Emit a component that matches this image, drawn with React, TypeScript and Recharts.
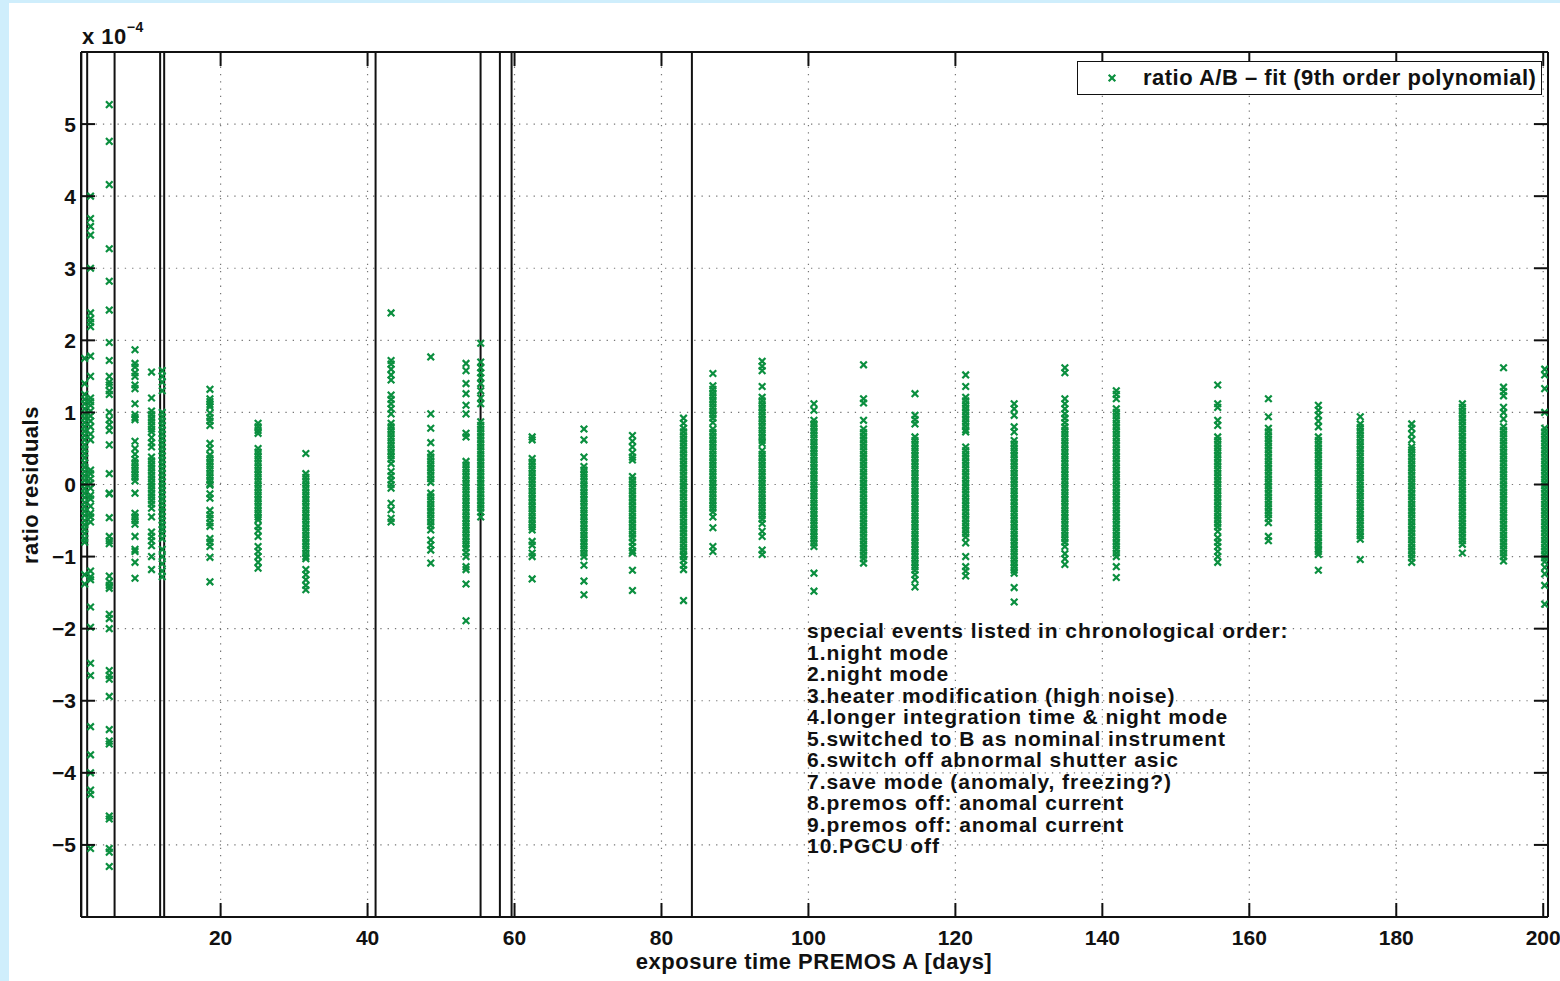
import React from "react";
import { CartesianGrid, Legend, ReferenceLine, Scatter, ScatterChart, XAxis, YAxis } from "recharts";

// days at which each batch of residuals was measured
const clusterDays = [
  1.5, 2.3, 4.85, 8.35, 10.6, 12.05, 18.55, 25.1, 31.6, 43.2, 48.6, 53.4, 55.4, 62.4, 69.45, 76.05, 83.0,
  87.0, 93.7, 100.75, 107.5, 114.5, 121.4, 128.0, 134.9, 141.9, 155.7, 162.6, 169.4, 175.1, 182.1, 189.0,
  194.6, 200.2
];

// residuals (x 1e-4) for each day above, same order
const clusterResiduals = [
  [1.75, 1.4, 1.25, 1.18, 1.12, 1.05, 0.98, 0.92, 0.86, 0.8, 0.74, 0.68, 0.62, 0.55, 0.49, 0.43, 0.37, 0.3, 0.24, 0.18, 0.12, 0.06, 0.0, -0.06, -0.12, -0.18, -0.25, -0.31, -0.37, -0.43, -0.5, -0.56, -0.62, -0.68, -0.75, -0.8, -1.25, -1.38],
  [4.0, 3.69, 3.58, 3.46, 3.0, 2.38, 2.3, 2.25, 2.19, 1.78, 1.5, 1.2, 1.15, 1.1, 1.02, 0.95, 0.88, 0.8, 0.7, 0.62, 0.2, 0.15, 0.08, 0.02, -0.05, -0.15, -0.2, -0.3, -0.4, -0.45, -0.52, -1.2, -1.28, -1.32, -1.7, -1.98, -2.48, -2.65, -3.36, -3.75, -4.0, -4.24, -4.3, -5.05],
  [5.27, 4.76, 4.16, 3.27, 2.82, 2.42, 1.97, 1.72, 1.5, 1.42, 1.38, 1.3, 1.25, 1.0, 0.9, 0.83, 0.75, 0.55, 0.15, -0.12, -0.13, -0.46, -0.72, -0.78, -0.82, -1.27, -1.35, -1.4, -1.44, -1.8, -1.86, -2.0, -2.58, -2.65, -2.7, -2.94, -3.4, -3.56, -3.6, -4.6, -4.64, -5.05, -5.1, -5.3],
  [1.87, 1.68, 1.63, 1.55, 1.5, 1.38, 1.33, 1.12, 0.97, 0.93, 0.9, 0.6, 0.5, 0.42, 0.35, 0.3, 0.25, 0.2, 0.15, 0.1, 0.05, -0.12, -0.4, -0.45, -0.5, -0.55, -0.72, -0.9, -0.93, -1.08, -1.3],
  [1.56, 1.2, 1.02, 0.97, 0.92, 0.87, 0.82, 0.77, 0.73, 0.65, 0.58, 0.52, 0.38, 0.33, 0.28, 0.23, 0.18, 0.13, 0.08, 0.03, -0.02, -0.07, -0.12, -0.17, -0.22, -0.27, -0.33, -0.45, -0.66, -0.72, -0.78, -0.85, -1.0, -1.18],
  [1.58, 1.5, 1.42, 1.3, 1.0, 0.94, 0.88, 0.82, 0.76, 0.7, 0.64, 0.58, 0.52, 0.46, 0.4, 0.34, 0.28, 0.22, 0.16, 0.1, 0.04, -0.02, -0.08, -0.14, -0.2, -0.26, -0.32, -0.38, -0.44, -0.5, -0.56, -0.62, -0.68, -0.75, -0.9, -1.0, -1.1, -1.2, -1.28],
  [1.32, 1.19, 1.15, 1.11, 1.08, 0.99, 0.93, 0.88, 0.82, 0.57, 0.5, 0.41, 0.36, 0.31, 0.26, 0.21, 0.16, 0.11, 0.06, 0.01, -0.01, -0.13, -0.19, -0.36, -0.42, -0.47, -0.53, -0.58, -0.75, -0.8, -0.86, -1.01, -1.35],
  [0.85, 0.8, 0.75, 0.71, 0.5, 0.45, 0.4, 0.35, 0.3, 0.25, 0.2, 0.15, 0.1, 0.05, 0.0, -0.05, -0.1, -0.15, -0.2, -0.25, -0.3, -0.35, -0.4, -0.45, -0.49, -0.58, -0.64, -0.72, -0.86, -0.93, -1.0, -1.08, -1.16],
  [0.43, 0.15, 0.1, 0.05, 0.0, -0.05, -0.1, -0.15, -0.2, -0.25, -0.3, -0.35, -0.4, -0.45, -0.5, -0.55, -0.6, -0.65, -0.7, -0.75, -0.8, -0.85, -0.9, -0.95, -1.0, -1.03, -1.18, -1.25, -1.32, -1.4, -1.46],
  [2.38, 1.72, 1.67, 1.6, 1.52, 1.45, 1.24, 1.18, 1.12, 1.05, 0.98, 0.85, 0.8, 0.75, 0.7, 0.65, 0.6, 0.55, 0.5, 0.45, 0.4, 0.35, 0.29, 0.18, 0.12, 0.06, 0.0, -0.05, -0.26, -0.35, -0.47, -0.52],
  [1.77, 0.98, 0.78, 0.58, 0.43, 0.38, 0.33, 0.28, 0.23, 0.18, 0.13, 0.08, 0.03, -0.12, -0.17, -0.22, -0.27, -0.32, -0.37, -0.42, -0.47, -0.52, -0.57, -0.63, -0.77, -0.84, -0.91, -1.09],
  [1.68, 1.58, 1.4, 1.26, 1.1, 0.98, 0.71, 0.66, 0.32, 0.27, 0.22, 0.17, 0.12, 0.07, 0.02, -0.03, -0.08, -0.13, -0.18, -0.23, -0.28, -0.33, -0.38, -0.43, -0.48, -0.53, -0.58, -0.63, -0.68, -0.73, -0.78, -0.83, -0.88, -0.94, -1.0, -1.14, -1.18, -1.38, -1.89],
  [1.96, 1.7, 1.62, 1.55, 1.48, 1.4, 1.3, 1.2, 1.12, 0.87, 0.82, 0.77, 0.72, 0.67, 0.62, 0.57, 0.52, 0.47, 0.42, 0.37, 0.32, 0.27, 0.22, 0.17, 0.12, 0.07, 0.02, -0.03, -0.08, -0.13, -0.18, -0.23, -0.28, -0.33, -0.38, -0.45],
  [0.66, 0.62, 0.36, 0.31, 0.26, 0.21, 0.16, 0.11, 0.06, 0.01, -0.04, -0.09, -0.14, -0.19, -0.24, -0.29, -0.34, -0.39, -0.44, -0.49, -0.54, -0.59, -0.63, -0.79, -0.84, -0.95, -1.0, -1.31],
  [0.77, 0.62, 0.38, 0.25, 0.2, 0.15, 0.1, 0.05, 0.0, -0.05, -0.1, -0.15, -0.2, -0.25, -0.3, -0.35, -0.4, -0.45, -0.5, -0.55, -0.6, -0.65, -0.7, -0.75, -0.8, -0.85, -0.9, -0.95, -1.0, -1.12, -1.34, -1.53],
  [0.68, 0.6, 0.52, 0.44, 0.38, 0.34, 0.11, 0.06, 0.01, -0.04, -0.09, -0.14, -0.19, -0.24, -0.29, -0.34, -0.39, -0.44, -0.49, -0.54, -0.59, -0.64, -0.69, -0.74, -0.8, -0.86, -0.92, -0.95, -1.19, -1.47],
  [0.92, 0.85, 0.78, 0.73, 0.68, 0.63, 0.58, 0.53, 0.48, 0.43, 0.38, 0.33, 0.28, 0.23, 0.18, 0.13, 0.08, 0.03, -0.02, -0.07, -0.12, -0.17, -0.22, -0.27, -0.32, -0.37, -0.42, -0.47, -0.52, -0.57, -0.62, -0.67, -0.72, -0.77, -0.82, -0.87, -0.92, -0.97, -1.0, -1.05, -1.12, -1.18, -1.61],
  [1.54, 1.37, 1.32, 1.27, 1.22, 1.17, 1.12, 1.07, 1.02, 0.97, 0.92, 0.86, 0.77, 0.72, 0.67, 0.62, 0.57, 0.52, 0.47, 0.42, 0.37, 0.32, 0.27, 0.22, 0.17, 0.12, 0.07, 0.02, -0.03, -0.08, -0.13, -0.18, -0.23, -0.28, -0.33, -0.38, -0.45, -0.6, -0.86, -0.93],
  [1.71, 1.64, 1.58, 1.36, 1.21, 1.16, 1.11, 1.06, 1.01, 0.96, 0.91, 0.86, 0.81, 0.76, 0.71, 0.66, 0.61, 0.57, 0.47, 0.42, 0.37, 0.32, 0.27, 0.22, 0.17, 0.12, 0.07, 0.02, -0.03, -0.08, -0.13, -0.18, -0.23, -0.28, -0.33, -0.38, -0.43, -0.48, -0.54, -0.65, -0.72, -0.91, -0.97],
  [1.12, 1.03, 0.89, 0.84, 0.79, 0.74, 0.69, 0.64, 0.59, 0.54, 0.49, 0.44, 0.39, 0.34, 0.29, 0.24, 0.19, 0.14, 0.09, 0.04, -0.01, -0.06, -0.11, -0.16, -0.21, -0.26, -0.31, -0.36, -0.41, -0.46, -0.51, -0.56, -0.61, -0.66, -0.71, -0.76, -0.81, -0.86, -1.23, -1.48],
  [1.66, 1.19, 1.13, 0.89, 0.77, 0.72, 0.67, 0.62, 0.57, 0.52, 0.47, 0.42, 0.37, 0.32, 0.27, 0.22, 0.17, 0.12, 0.07, 0.02, -0.03, -0.08, -0.13, -0.18, -0.23, -0.28, -0.33, -0.38, -0.43, -0.48, -0.53, -0.58, -0.63, -0.68, -0.73, -0.78, -0.83, -0.88, -0.93, -0.98, -1.03, -1.09],
  [1.26, 0.96, 0.9, 0.84, 0.66, 0.61, 0.56, 0.51, 0.46, 0.41, 0.36, 0.31, 0.26, 0.21, 0.16, 0.11, 0.06, 0.01, -0.04, -0.09, -0.14, -0.19, -0.24, -0.29, -0.34, -0.39, -0.44, -0.49, -0.54, -0.59, -0.64, -0.69, -0.74, -0.79, -0.84, -0.89, -0.94, -0.99, -1.04, -1.09, -1.14, -1.19, -1.25, -1.32, -1.42],
  [1.52, 1.36, 1.21, 1.16, 1.11, 1.06, 1.01, 0.96, 0.91, 0.86, 0.81, 0.76, 0.73, 0.52, 0.47, 0.42, 0.37, 0.32, 0.27, 0.22, 0.17, 0.12, 0.07, 0.02, -0.03, -0.08, -0.13, -0.18, -0.23, -0.28, -0.33, -0.38, -0.43, -0.48, -0.53, -0.58, -0.63, -0.68, -0.73, -0.81, -1.0, -1.14, -1.2, -1.27],
  [1.12, 1.05, 0.96, 0.8, 0.73, 0.61, 0.56, 0.51, 0.46, 0.41, 0.36, 0.31, 0.26, 0.21, 0.16, 0.11, 0.06, 0.01, -0.04, -0.09, -0.14, -0.19, -0.24, -0.29, -0.34, -0.39, -0.44, -0.49, -0.54, -0.59, -0.64, -0.69, -0.74, -0.79, -0.84, -0.89, -0.94, -0.99, -1.04, -1.09, -1.14, -1.19, -1.23, -1.43, -1.63],
  [1.62, 1.55, 1.19, 1.12, 1.05, 0.98, 0.92, 0.86, 0.8, 0.75, 0.7, 0.65, 0.6, 0.55, 0.5, 0.45, 0.4, 0.35, 0.3, 0.25, 0.2, 0.15, 0.1, 0.05, 0.0, -0.05, -0.1, -0.15, -0.2, -0.25, -0.3, -0.35, -0.4, -0.45, -0.5, -0.55, -0.6, -0.65, -0.7, -0.75, -0.8, -0.86, -0.96, -1.03, -1.11],
  [1.3, 1.25, 1.19, 1.05, 1.0, 0.95, 0.9, 0.85, 0.8, 0.75, 0.7, 0.65, 0.6, 0.55, 0.5, 0.45, 0.4, 0.35, 0.3, 0.25, 0.2, 0.15, 0.1, 0.05, 0.0, -0.05, -0.1, -0.15, -0.2, -0.25, -0.3, -0.35, -0.4, -0.45, -0.5, -0.55, -0.6, -0.65, -0.7, -0.75, -0.8, -0.85, -0.9, -0.95, -1.0, -1.14, -1.29],
  [1.38, 1.12, 1.07, 0.89, 0.82, 0.66, 0.61, 0.56, 0.51, 0.46, 0.41, 0.36, 0.31, 0.26, 0.21, 0.16, 0.11, 0.06, 0.01, -0.04, -0.09, -0.14, -0.19, -0.24, -0.29, -0.34, -0.39, -0.44, -0.49, -0.54, -0.59, -0.65, -0.74, -0.8, -0.86, -0.93, -1.0, -1.08],
  [1.19, 0.94, 0.78, 0.73, 0.68, 0.63, 0.58, 0.53, 0.48, 0.43, 0.38, 0.33, 0.28, 0.23, 0.18, 0.13, 0.08, 0.03, -0.02, -0.07, -0.12, -0.17, -0.22, -0.27, -0.32, -0.37, -0.42, -0.47, -0.53, -0.72, -0.78],
  [1.1, 1.03, 0.96, 0.88, 0.8, 0.66, 0.61, 0.56, 0.51, 0.46, 0.41, 0.36, 0.31, 0.26, 0.21, 0.16, 0.11, 0.06, 0.01, -0.04, -0.09, -0.14, -0.19, -0.24, -0.29, -0.34, -0.39, -0.44, -0.49, -0.54, -0.59, -0.64, -0.69, -0.74, -0.79, -0.84, -0.89, -0.93, -0.97, -1.19],
  [0.94, 0.84, 0.79, 0.74, 0.69, 0.64, 0.59, 0.54, 0.49, 0.44, 0.39, 0.34, 0.29, 0.24, 0.19, 0.14, 0.09, 0.04, -0.01, -0.06, -0.11, -0.16, -0.21, -0.26, -0.31, -0.36, -0.41, -0.46, -0.51, -0.56, -0.61, -0.66, -0.71, -0.76, -1.04],
  [0.84, 0.78, 0.7, 0.62, 0.52, 0.48, 0.43, 0.38, 0.33, 0.28, 0.23, 0.18, 0.13, 0.08, 0.03, -0.02, -0.07, -0.12, -0.17, -0.22, -0.27, -0.32, -0.37, -0.42, -0.47, -0.52, -0.57, -0.62, -0.67, -0.72, -0.77, -0.82, -0.87, -0.92, -0.97, -1.02, -1.08],
  [1.12, 1.07, 1.02, 0.97, 0.92, 0.87, 0.82, 0.77, 0.72, 0.67, 0.62, 0.57, 0.52, 0.47, 0.42, 0.37, 0.32, 0.27, 0.22, 0.17, 0.12, 0.07, 0.02, -0.03, -0.08, -0.13, -0.18, -0.23, -0.28, -0.33, -0.38, -0.43, -0.48, -0.53, -0.58, -0.63, -0.68, -0.73, -0.78, -0.83, -0.95],
  [1.62, 1.35, 1.29, 1.23, 1.07, 1.0, 0.91, 0.8, 0.75, 0.7, 0.65, 0.6, 0.55, 0.5, 0.45, 0.4, 0.35, 0.3, 0.25, 0.2, 0.15, 0.1, 0.05, 0.0, -0.05, -0.1, -0.15, -0.2, -0.25, -0.3, -0.35, -0.4, -0.45, -0.5, -0.55, -0.6, -0.65, -0.7, -0.75, -0.8, -0.85, -0.9, -0.95, -1.0, -1.06],
  [1.6, 1.52, 1.33, 1.0, 0.78, 0.73, 0.68, 0.63, 0.58, 0.53, 0.48, 0.43, 0.38, 0.33, 0.28, 0.23, 0.18, 0.13, 0.08, 0.03, -0.02, -0.07, -0.12, -0.17, -0.22, -0.27, -0.32, -0.37, -0.42, -0.47, -0.52, -0.57, -0.62, -0.67, -0.72, -0.77, -0.82, -0.87, -0.92, -0.97, -1.02, -1.07, -1.15, -1.24, -1.4, -1.66]
];

// vertical markers for the special events
const eventDays = [1.05, 1.84, 5.57, 11.77, 12.32, 41.09, 55.38, 58.01, 59.6, 84.14];

const eventNotes = [
  "special events listed in chronological order:",
  "1.night mode",
  "2.night mode",
  "3.heater modification (high noise)",
  "4.longer integration time & night mode",
  "5.switched to B as nominal instrument",
  "6.switch off abnormal shutter asic",
  "7.save mode (anomaly, freezing?)",
  "8.premos off: anomal current",
  "9.premos off: anomal current",
  "10.PGCU off"
];

const xTicks = [20, 40, 60, 80, 100, 120, 140, 160, 180, 200];
const yTicks = [-5, -4, -3, -2, -1, 0, 1, 2, 3, 4, 5];
const xDomain = [1, 200.65];
const yDomain = [-6, 6];

const seriesName = "ratio A/B \u2013 fit (9th order polynomial)";

const GREEN = "#0b8f3f";
const INK = "#111";
const FONT = '"Liberation Sans", Arial, Helvetica, sans-serif';
const W = 1560;
const H = 981;
const PLOT_LEFT = 81;
const PLOT_RIGHT = 1548;
const PLOT_TOP = 52;
const PLOT_BOTTOM = 917;
const TICK = 14;

const textStyle = {
  fontFamily: FONT,
  fontWeight: "bold" as const,
  fontSize: 22,
  letterSpacing: "0.5px",
  color: INK,
  whiteSpace: "nowrap" as const
};

const points = clusterDays.flatMap((day, i) =>
  clusterResiduals[i].map((residual) => ({ day, residual }))
);

function XMark(props: any) {
  const { cx, cy } = props;
  if (cx == null || cy == null) return null;
  const s = 3.3;
  return (
    <path
      d={`M${cx - s},${cy - s}L${cx + s},${cy + s}M${cx - s},${cy + s}L${cx + s},${cy - s}`}
      stroke={GREEN}
      strokeWidth={2.2}
      fill="none"
    />
  );
}

function XTick(props: any) {
  const { x, payload } = props;
  return (
    <g>
      <line x1={x} x2={x} y1={PLOT_BOTTOM} y2={PLOT_BOTTOM - TICK} stroke={INK} strokeWidth={2} />
      <line x1={x} x2={x} y1={PLOT_TOP} y2={PLOT_TOP + TICK} stroke={INK} strokeWidth={2} />
      <text x={x} y={PLOT_BOTTOM + 28} textAnchor="middle" fontFamily={FONT} fontWeight="bold" fontSize={21} fill={INK}>
        {payload.value}
      </text>
    </g>
  );
}

function YTick(props: any) {
  const { y, payload } = props;
  const label = String(payload.value).replace("-", "\u2212");
  return (
    <g>
      <line x1={PLOT_LEFT} x2={PLOT_LEFT + TICK} y1={y} y2={y} stroke={INK} strokeWidth={2} />
      <line x1={PLOT_RIGHT - TICK} x2={PLOT_RIGHT} y1={y} y2={y} stroke={INK} strokeWidth={2} />
      <text x={PLOT_LEFT - 5} y={y + 7.5} textAnchor="end" fontFamily={FONT} fontWeight="bold" fontSize={21} fill={INK}>
        {label}
      </text>
    </g>
  );
}

function LegendBox() {
  return (
    <div
      style={{
        boxSizing: "border-box",
        width: 465,
        height: 34,
        border: `1.5px solid ${INK}`,
        background: "#fff",
        position: "relative",
        ...textStyle
      }}
    >
      <svg width={12} height={12} style={{ position: "absolute", left: 28, top: 10 }}>
        <XMark cx={6} cy={6} />
      </svg>
      <span style={{ position: "absolute", left: 65, top: 3 }}>{seriesName}</span>
    </div>
  );
}

export default function App() {
  return (
    <div style={{ position: "absolute", left: 0, top: 0, width: W, height: H, background: "#cfeefc", overflow: "hidden" }}>
      <div style={{ position: "absolute", left: 9, top: 3, width: W - 9, height: H - 3, background: "#fff" }} />
      <div style={{ position: "absolute", left: 0, top: 0 }}>
        <ScatterChart
          width={W}
          height={H}
          margin={{ top: PLOT_TOP, right: W - PLOT_RIGHT, bottom: 24, left: 0 }}
        >
          <CartesianGrid stroke="#777" strokeWidth={1.2} strokeDasharray="1.3 6" />
          <XAxis
            type="number"
            dataKey="day"
            domain={xDomain}
            ticks={xTicks}
            allowDataOverflow
            height={H - 24 - PLOT_BOTTOM}
            axisLine={{ stroke: INK, strokeWidth: 2 }}
            tickLine={false}
            tick={<XTick />}
          />
          <YAxis
            type="number"
            dataKey="residual"
            domain={yDomain}
            ticks={yTicks}
            allowDataOverflow
            width={PLOT_LEFT}
            axisLine={{ stroke: INK, strokeWidth: 2 }}
            tickLine={false}
            tick={<YTick />}
          />
          <ReferenceLine y={yDomain[1]} stroke={INK} strokeWidth={2} />
          <ReferenceLine x={xDomain[1]} stroke={INK} strokeWidth={2} />
          {eventDays.map((d) => (
            <ReferenceLine key={d} x={d} stroke={INK} strokeWidth={2} />
          ))}
          <Scatter name={seriesName} data={points} shape={<XMark />} isAnimationActive={false} />
          <Legend
            layout="horizontal"
            verticalAlign="middle"
            align="center"
            content={() => <LegendBox />}
            wrapperStyle={{ position: "absolute", left: 1077, top: 61, width: 465, height: 34 }}
          />
        </ScatterChart>
      </div>

      <div style={{ position: "absolute", left: 82, top: 23, ...textStyle }}>
        x 10<sup style={{ fontSize: 14, position: "relative", top: -4 }}>{"\u2212"}4</sup>
      </div>

      <div
        style={{
          position: "absolute",
          left: 807,
          top: 620,
          lineHeight: "21.5px",
          ...textStyle,
          fontSize: 21,
          letterSpacing: "0.95px"
        }}
      >
        {eventNotes.map((t) => (
          <div key={t}>{t}</div>
        ))}
      </div>

      <div
        style={{
          position: "absolute",
          left: 814,
          top: 962,
          transform: "translate(-50%, -50%)",
          ...textStyle
        }}
      >
        exposure time PREMOS A [days]
      </div>

      <div
        style={{
          position: "absolute",
          left: 31,
          top: 485,
          transform: "translate(-50%, -50%) rotate(-90deg)",
          ...textStyle
        }}
      >
        ratio residuals
      </div>
    </div>
  );
}
